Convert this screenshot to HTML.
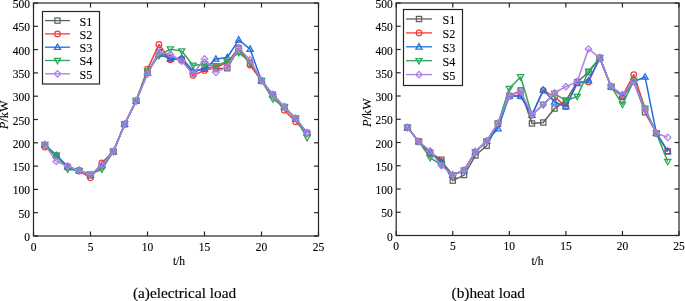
<!DOCTYPE html>
<html><head><meta charset="utf-8"><style>
html,body{margin:0;padding:0;background:#fff;}
body{width:685px;height:301px;overflow:hidden;}
svg{display:block;will-change:transform;}
.tk{font-family:"Liberation Serif",serif;font-size:11.5px;fill:#000;stroke:#000;stroke-width:0.12px;}
.lg{font-family:"Liberation Serif",serif;font-size:12.2px;fill:#000;stroke:#000;stroke-width:0.1px;}
.cap{font-family:"Liberation Serif",serif;font-size:15.3px;fill:#000;stroke:#000;stroke-width:0.15px;}
</style></head><body>
<svg width="685" height="301" viewBox="0 0 685 301">
<polyline points="44.90,145.13 56.30,155.85 67.70,167.03 79.10,170.76 90.50,175.42 101.90,166.10 113.30,151.65 124.70,124.16 136.10,100.86 147.50,72.90 158.90,51.93 170.30,57.99 181.70,59.85 193.10,72.90 204.50,67.31 215.90,68.71 227.30,68.24 238.70,48.67 250.10,63.58 261.50,80.82 272.90,94.80 284.30,106.92 295.70,118.57 307.10,133.01" fill="none" stroke="#606060" stroke-width="1.5" stroke-linejoin="round"/>
<rect x="42.30" y="142.53" width="5.20" height="5.20" fill="none" stroke="#606060" stroke-width="1.25"/>
<rect x="53.70" y="153.25" width="5.20" height="5.20" fill="none" stroke="#606060" stroke-width="1.25"/>
<rect x="65.10" y="164.43" width="5.20" height="5.20" fill="none" stroke="#606060" stroke-width="1.25"/>
<rect x="76.50" y="168.16" width="5.20" height="5.20" fill="none" stroke="#606060" stroke-width="1.25"/>
<rect x="87.90" y="172.82" width="5.20" height="5.20" fill="none" stroke="#606060" stroke-width="1.25"/>
<rect x="99.30" y="163.50" width="5.20" height="5.20" fill="none" stroke="#606060" stroke-width="1.25"/>
<rect x="110.70" y="149.05" width="5.20" height="5.20" fill="none" stroke="#606060" stroke-width="1.25"/>
<rect x="122.10" y="121.56" width="5.20" height="5.20" fill="none" stroke="#606060" stroke-width="1.25"/>
<rect x="133.50" y="98.26" width="5.20" height="5.20" fill="none" stroke="#606060" stroke-width="1.25"/>
<rect x="144.90" y="70.30" width="5.20" height="5.20" fill="none" stroke="#606060" stroke-width="1.25"/>
<rect x="156.30" y="49.33" width="5.20" height="5.20" fill="none" stroke="#606060" stroke-width="1.25"/>
<rect x="167.70" y="55.39" width="5.20" height="5.20" fill="none" stroke="#606060" stroke-width="1.25"/>
<rect x="179.10" y="57.25" width="5.20" height="5.20" fill="none" stroke="#606060" stroke-width="1.25"/>
<rect x="190.50" y="70.30" width="5.20" height="5.20" fill="none" stroke="#606060" stroke-width="1.25"/>
<rect x="201.90" y="64.71" width="5.20" height="5.20" fill="none" stroke="#606060" stroke-width="1.25"/>
<rect x="213.30" y="66.11" width="5.20" height="5.20" fill="none" stroke="#606060" stroke-width="1.25"/>
<rect x="224.70" y="65.64" width="5.20" height="5.20" fill="none" stroke="#606060" stroke-width="1.25"/>
<rect x="236.10" y="46.07" width="5.20" height="5.20" fill="none" stroke="#606060" stroke-width="1.25"/>
<rect x="247.50" y="60.98" width="5.20" height="5.20" fill="none" stroke="#606060" stroke-width="1.25"/>
<rect x="258.90" y="78.22" width="5.20" height="5.20" fill="none" stroke="#606060" stroke-width="1.25"/>
<rect x="270.30" y="92.20" width="5.20" height="5.20" fill="none" stroke="#606060" stroke-width="1.25"/>
<rect x="281.70" y="104.32" width="5.20" height="5.20" fill="none" stroke="#606060" stroke-width="1.25"/>
<rect x="293.10" y="115.97" width="5.20" height="5.20" fill="none" stroke="#606060" stroke-width="1.25"/>
<rect x="304.50" y="130.41" width="5.20" height="5.20" fill="none" stroke="#606060" stroke-width="1.25"/>
<polyline points="44.90,146.99 56.30,155.85 67.70,167.03 79.10,170.76 90.50,177.75 101.90,162.84 113.30,151.65 124.70,124.16 136.10,100.86 147.50,69.17 158.90,44.47 170.30,59.85 181.70,58.92 193.10,75.23 204.50,70.57 215.90,67.31 227.30,62.65 238.70,47.74 250.10,64.98 261.50,80.82 272.90,94.80 284.30,110.18 295.70,121.83 307.10,133.01" fill="none" stroke="#f03c3c" stroke-width="1.5" stroke-linejoin="round"/>
<circle cx="44.90" cy="146.99" r="2.80" fill="none" stroke="#f03c3c" stroke-width="1.25"/>
<circle cx="56.30" cy="155.85" r="2.80" fill="none" stroke="#f03c3c" stroke-width="1.25"/>
<circle cx="67.70" cy="167.03" r="2.80" fill="none" stroke="#f03c3c" stroke-width="1.25"/>
<circle cx="79.10" cy="170.76" r="2.80" fill="none" stroke="#f03c3c" stroke-width="1.25"/>
<circle cx="90.50" cy="177.75" r="2.80" fill="none" stroke="#f03c3c" stroke-width="1.25"/>
<circle cx="101.90" cy="162.84" r="2.80" fill="none" stroke="#f03c3c" stroke-width="1.25"/>
<circle cx="113.30" cy="151.65" r="2.80" fill="none" stroke="#f03c3c" stroke-width="1.25"/>
<circle cx="124.70" cy="124.16" r="2.80" fill="none" stroke="#f03c3c" stroke-width="1.25"/>
<circle cx="136.10" cy="100.86" r="2.80" fill="none" stroke="#f03c3c" stroke-width="1.25"/>
<circle cx="147.50" cy="69.17" r="2.80" fill="none" stroke="#f03c3c" stroke-width="1.25"/>
<circle cx="158.90" cy="44.47" r="2.80" fill="none" stroke="#f03c3c" stroke-width="1.25"/>
<circle cx="170.30" cy="59.85" r="2.80" fill="none" stroke="#f03c3c" stroke-width="1.25"/>
<circle cx="181.70" cy="58.92" r="2.80" fill="none" stroke="#f03c3c" stroke-width="1.25"/>
<circle cx="193.10" cy="75.23" r="2.80" fill="none" stroke="#f03c3c" stroke-width="1.25"/>
<circle cx="204.50" cy="70.57" r="2.80" fill="none" stroke="#f03c3c" stroke-width="1.25"/>
<circle cx="215.90" cy="67.31" r="2.80" fill="none" stroke="#f03c3c" stroke-width="1.25"/>
<circle cx="227.30" cy="62.65" r="2.80" fill="none" stroke="#f03c3c" stroke-width="1.25"/>
<circle cx="238.70" cy="47.74" r="2.80" fill="none" stroke="#f03c3c" stroke-width="1.25"/>
<circle cx="250.10" cy="64.98" r="2.80" fill="none" stroke="#f03c3c" stroke-width="1.25"/>
<circle cx="261.50" cy="80.82" r="2.80" fill="none" stroke="#f03c3c" stroke-width="1.25"/>
<circle cx="272.90" cy="94.80" r="2.80" fill="none" stroke="#f03c3c" stroke-width="1.25"/>
<circle cx="284.30" cy="110.18" r="2.80" fill="none" stroke="#f03c3c" stroke-width="1.25"/>
<circle cx="295.70" cy="121.83" r="2.80" fill="none" stroke="#f03c3c" stroke-width="1.25"/>
<circle cx="307.10" cy="133.01" r="2.80" fill="none" stroke="#f03c3c" stroke-width="1.25"/>
<polyline points="44.90,144.66 56.30,155.38 67.70,166.57 79.10,170.29 90.50,174.95 101.90,165.17 113.30,151.65 124.70,124.16 136.10,100.86 147.50,72.90 158.90,54.26 170.30,58.92 181.70,57.99 193.10,71.04 204.50,69.17 215.90,58.92 227.30,57.52 238.70,39.81 250.10,49.13 261.50,80.82 272.90,94.80 284.30,106.92 295.70,118.57 307.10,133.01" fill="none" stroke="#1f6fe0" stroke-width="1.5" stroke-linejoin="round"/>
<path d="M44.90,141.46 L48.00,146.86 L41.80,146.86 Z" fill="none" stroke="#1f6fe0" stroke-width="1.25"/>
<path d="M56.30,152.18 L59.40,157.58 L53.20,157.58 Z" fill="none" stroke="#1f6fe0" stroke-width="1.25"/>
<path d="M67.70,163.37 L70.80,168.77 L64.60,168.77 Z" fill="none" stroke="#1f6fe0" stroke-width="1.25"/>
<path d="M79.10,167.09 L82.20,172.49 L76.00,172.49 Z" fill="none" stroke="#1f6fe0" stroke-width="1.25"/>
<path d="M90.50,171.75 L93.60,177.15 L87.40,177.15 Z" fill="none" stroke="#1f6fe0" stroke-width="1.25"/>
<path d="M101.90,161.97 L105.00,167.37 L98.80,167.37 Z" fill="none" stroke="#1f6fe0" stroke-width="1.25"/>
<path d="M113.30,148.45 L116.40,153.85 L110.20,153.85 Z" fill="none" stroke="#1f6fe0" stroke-width="1.25"/>
<path d="M124.70,120.96 L127.80,126.36 L121.60,126.36 Z" fill="none" stroke="#1f6fe0" stroke-width="1.25"/>
<path d="M136.10,97.66 L139.20,103.06 L133.00,103.06 Z" fill="none" stroke="#1f6fe0" stroke-width="1.25"/>
<path d="M147.50,69.70 L150.60,75.10 L144.40,75.10 Z" fill="none" stroke="#1f6fe0" stroke-width="1.25"/>
<path d="M158.90,51.06 L162.00,56.46 L155.80,56.46 Z" fill="none" stroke="#1f6fe0" stroke-width="1.25"/>
<path d="M170.30,55.72 L173.40,61.12 L167.20,61.12 Z" fill="none" stroke="#1f6fe0" stroke-width="1.25"/>
<path d="M181.70,54.79 L184.80,60.19 L178.60,60.19 Z" fill="none" stroke="#1f6fe0" stroke-width="1.25"/>
<path d="M193.10,67.84 L196.20,73.24 L190.00,73.24 Z" fill="none" stroke="#1f6fe0" stroke-width="1.25"/>
<path d="M204.50,65.97 L207.60,71.37 L201.40,71.37 Z" fill="none" stroke="#1f6fe0" stroke-width="1.25"/>
<path d="M215.90,55.72 L219.00,61.12 L212.80,61.12 Z" fill="none" stroke="#1f6fe0" stroke-width="1.25"/>
<path d="M227.30,54.32 L230.40,59.72 L224.20,59.72 Z" fill="none" stroke="#1f6fe0" stroke-width="1.25"/>
<path d="M238.70,36.61 L241.80,42.01 L235.60,42.01 Z" fill="none" stroke="#1f6fe0" stroke-width="1.25"/>
<path d="M250.10,45.93 L253.20,51.33 L247.00,51.33 Z" fill="none" stroke="#1f6fe0" stroke-width="1.25"/>
<path d="M261.50,77.62 L264.60,83.02 L258.40,83.02 Z" fill="none" stroke="#1f6fe0" stroke-width="1.25"/>
<path d="M272.90,91.60 L276.00,97.00 L269.80,97.00 Z" fill="none" stroke="#1f6fe0" stroke-width="1.25"/>
<path d="M284.30,103.72 L287.40,109.12 L281.20,109.12 Z" fill="none" stroke="#1f6fe0" stroke-width="1.25"/>
<path d="M295.70,115.37 L298.80,120.77 L292.60,120.77 Z" fill="none" stroke="#1f6fe0" stroke-width="1.25"/>
<path d="M307.10,129.81 L310.20,135.21 L304.00,135.21 Z" fill="none" stroke="#1f6fe0" stroke-width="1.25"/>
<polyline points="44.90,144.66 56.30,155.38 67.70,169.36 79.10,170.76 90.50,174.02 101.90,169.36 113.30,151.65 124.70,124.16 136.10,100.86 147.50,71.04 158.90,55.66 170.30,49.13 181.70,51.00 193.10,65.44 204.50,64.05 215.90,65.91 227.30,61.25 238.70,52.86 250.10,61.72 261.50,80.82 272.90,99.00 284.30,106.92 295.70,118.57 307.10,137.67" fill="none" stroke="#2ea55a" stroke-width="1.5" stroke-linejoin="round"/>
<path d="M44.90,147.86 L48.00,142.46 L41.80,142.46 Z" fill="none" stroke="#2ea55a" stroke-width="1.25"/>
<path d="M56.30,158.58 L59.40,153.18 L53.20,153.18 Z" fill="none" stroke="#2ea55a" stroke-width="1.25"/>
<path d="M67.70,172.56 L70.80,167.16 L64.60,167.16 Z" fill="none" stroke="#2ea55a" stroke-width="1.25"/>
<path d="M79.10,173.96 L82.20,168.56 L76.00,168.56 Z" fill="none" stroke="#2ea55a" stroke-width="1.25"/>
<path d="M90.50,177.22 L93.60,171.82 L87.40,171.82 Z" fill="none" stroke="#2ea55a" stroke-width="1.25"/>
<path d="M101.90,172.56 L105.00,167.16 L98.80,167.16 Z" fill="none" stroke="#2ea55a" stroke-width="1.25"/>
<path d="M113.30,154.85 L116.40,149.45 L110.20,149.45 Z" fill="none" stroke="#2ea55a" stroke-width="1.25"/>
<path d="M124.70,127.36 L127.80,121.96 L121.60,121.96 Z" fill="none" stroke="#2ea55a" stroke-width="1.25"/>
<path d="M136.10,104.06 L139.20,98.66 L133.00,98.66 Z" fill="none" stroke="#2ea55a" stroke-width="1.25"/>
<path d="M147.50,74.24 L150.60,68.84 L144.40,68.84 Z" fill="none" stroke="#2ea55a" stroke-width="1.25"/>
<path d="M158.90,58.86 L162.00,53.46 L155.80,53.46 Z" fill="none" stroke="#2ea55a" stroke-width="1.25"/>
<path d="M170.30,52.33 L173.40,46.93 L167.20,46.93 Z" fill="none" stroke="#2ea55a" stroke-width="1.25"/>
<path d="M181.70,54.20 L184.80,48.80 L178.60,48.80 Z" fill="none" stroke="#2ea55a" stroke-width="1.25"/>
<path d="M193.10,68.64 L196.20,63.24 L190.00,63.24 Z" fill="none" stroke="#2ea55a" stroke-width="1.25"/>
<path d="M204.50,67.25 L207.60,61.85 L201.40,61.85 Z" fill="none" stroke="#2ea55a" stroke-width="1.25"/>
<path d="M215.90,69.11 L219.00,63.71 L212.80,63.71 Z" fill="none" stroke="#2ea55a" stroke-width="1.25"/>
<path d="M227.30,64.45 L230.40,59.05 L224.20,59.05 Z" fill="none" stroke="#2ea55a" stroke-width="1.25"/>
<path d="M238.70,56.06 L241.80,50.66 L235.60,50.66 Z" fill="none" stroke="#2ea55a" stroke-width="1.25"/>
<path d="M250.10,64.92 L253.20,59.52 L247.00,59.52 Z" fill="none" stroke="#2ea55a" stroke-width="1.25"/>
<path d="M261.50,84.02 L264.60,78.62 L258.40,78.62 Z" fill="none" stroke="#2ea55a" stroke-width="1.25"/>
<path d="M272.90,102.20 L276.00,96.80 L269.80,96.80 Z" fill="none" stroke="#2ea55a" stroke-width="1.25"/>
<path d="M284.30,110.12 L287.40,104.72 L281.20,104.72 Z" fill="none" stroke="#2ea55a" stroke-width="1.25"/>
<path d="M295.70,121.77 L298.80,116.37 L292.60,116.37 Z" fill="none" stroke="#2ea55a" stroke-width="1.25"/>
<path d="M307.10,140.87 L310.20,135.47 L304.00,135.47 Z" fill="none" stroke="#2ea55a" stroke-width="1.25"/>
<polyline points="44.90,144.66 56.30,161.44 67.70,166.10 79.10,170.76 90.50,174.95 101.90,165.17 113.30,151.65 124.70,124.16 136.10,100.86 147.50,73.83 158.90,52.40 170.30,54.26 181.70,61.25 193.10,73.83 204.50,58.92 215.90,72.43 227.30,66.84 238.70,48.20 250.10,59.85 261.50,80.82 272.90,94.80 284.30,106.92 295.70,118.57 307.10,133.01" fill="none" stroke="#b07ee8" stroke-width="1.5" stroke-linejoin="round"/>
<path d="M44.90,141.46 L48.10,144.66 L44.90,147.86 L41.70,144.66 Z" fill="none" stroke="#b07ee8" stroke-width="1.25"/>
<path d="M56.30,158.24 L59.50,161.44 L56.30,164.64 L53.10,161.44 Z" fill="none" stroke="#b07ee8" stroke-width="1.25"/>
<path d="M67.70,162.90 L70.90,166.10 L67.70,169.30 L64.50,166.10 Z" fill="none" stroke="#b07ee8" stroke-width="1.25"/>
<path d="M79.10,167.56 L82.30,170.76 L79.10,173.96 L75.90,170.76 Z" fill="none" stroke="#b07ee8" stroke-width="1.25"/>
<path d="M90.50,171.75 L93.70,174.95 L90.50,178.15 L87.30,174.95 Z" fill="none" stroke="#b07ee8" stroke-width="1.25"/>
<path d="M101.90,161.97 L105.10,165.17 L101.90,168.37 L98.70,165.17 Z" fill="none" stroke="#b07ee8" stroke-width="1.25"/>
<path d="M113.30,148.45 L116.50,151.65 L113.30,154.85 L110.10,151.65 Z" fill="none" stroke="#b07ee8" stroke-width="1.25"/>
<path d="M124.70,120.96 L127.90,124.16 L124.70,127.36 L121.50,124.16 Z" fill="none" stroke="#b07ee8" stroke-width="1.25"/>
<path d="M136.10,97.66 L139.30,100.86 L136.10,104.06 L132.90,100.86 Z" fill="none" stroke="#b07ee8" stroke-width="1.25"/>
<path d="M147.50,70.63 L150.70,73.83 L147.50,77.03 L144.30,73.83 Z" fill="none" stroke="#b07ee8" stroke-width="1.25"/>
<path d="M158.90,49.20 L162.10,52.40 L158.90,55.60 L155.70,52.40 Z" fill="none" stroke="#b07ee8" stroke-width="1.25"/>
<path d="M170.30,51.06 L173.50,54.26 L170.30,57.46 L167.10,54.26 Z" fill="none" stroke="#b07ee8" stroke-width="1.25"/>
<path d="M181.70,58.05 L184.90,61.25 L181.70,64.45 L178.50,61.25 Z" fill="none" stroke="#b07ee8" stroke-width="1.25"/>
<path d="M193.10,70.63 L196.30,73.83 L193.10,77.03 L189.90,73.83 Z" fill="none" stroke="#b07ee8" stroke-width="1.25"/>
<path d="M204.50,55.72 L207.70,58.92 L204.50,62.12 L201.30,58.92 Z" fill="none" stroke="#b07ee8" stroke-width="1.25"/>
<path d="M215.90,69.23 L219.10,72.43 L215.90,75.63 L212.70,72.43 Z" fill="none" stroke="#b07ee8" stroke-width="1.25"/>
<path d="M227.30,63.64 L230.50,66.84 L227.30,70.04 L224.10,66.84 Z" fill="none" stroke="#b07ee8" stroke-width="1.25"/>
<path d="M238.70,45.00 L241.90,48.20 L238.70,51.40 L235.50,48.20 Z" fill="none" stroke="#b07ee8" stroke-width="1.25"/>
<path d="M250.10,56.65 L253.30,59.85 L250.10,63.05 L246.90,59.85 Z" fill="none" stroke="#b07ee8" stroke-width="1.25"/>
<path d="M261.50,77.62 L264.70,80.82 L261.50,84.02 L258.30,80.82 Z" fill="none" stroke="#b07ee8" stroke-width="1.25"/>
<path d="M272.90,91.60 L276.10,94.80 L272.90,98.00 L269.70,94.80 Z" fill="none" stroke="#b07ee8" stroke-width="1.25"/>
<path d="M284.30,103.72 L287.50,106.92 L284.30,110.12 L281.10,106.92 Z" fill="none" stroke="#b07ee8" stroke-width="1.25"/>
<path d="M295.70,115.37 L298.90,118.57 L295.70,121.77 L292.50,118.57 Z" fill="none" stroke="#b07ee8" stroke-width="1.25"/>
<path d="M307.10,129.81 L310.30,133.01 L307.10,136.21 L303.90,133.01 Z" fill="none" stroke="#b07ee8" stroke-width="1.25"/>
<rect x="33.5" y="3.0" width="285.0" height="233.0" fill="none" stroke="#262626" stroke-width="1.2"/>
<line x1="33.5" y1="236.0" x2="33.5" y2="231.5" stroke="#262626" stroke-width="1.2"/>
<line x1="33.5" y1="3.0" x2="33.5" y2="7.5" stroke="#262626" stroke-width="1.2"/>
<line x1="90.5" y1="236.0" x2="90.5" y2="231.5" stroke="#262626" stroke-width="1.2"/>
<line x1="90.5" y1="3.0" x2="90.5" y2="7.5" stroke="#262626" stroke-width="1.2"/>
<line x1="147.5" y1="236.0" x2="147.5" y2="231.5" stroke="#262626" stroke-width="1.2"/>
<line x1="147.5" y1="3.0" x2="147.5" y2="7.5" stroke="#262626" stroke-width="1.2"/>
<line x1="204.5" y1="236.0" x2="204.5" y2="231.5" stroke="#262626" stroke-width="1.2"/>
<line x1="204.5" y1="3.0" x2="204.5" y2="7.5" stroke="#262626" stroke-width="1.2"/>
<line x1="261.5" y1="236.0" x2="261.5" y2="231.5" stroke="#262626" stroke-width="1.2"/>
<line x1="261.5" y1="3.0" x2="261.5" y2="7.5" stroke="#262626" stroke-width="1.2"/>
<line x1="318.5" y1="236.0" x2="318.5" y2="231.5" stroke="#262626" stroke-width="1.2"/>
<line x1="318.5" y1="3.0" x2="318.5" y2="7.5" stroke="#262626" stroke-width="1.2"/>
<line x1="33.5" y1="236.0" x2="38.0" y2="236.0" stroke="#262626" stroke-width="1.2"/>
<line x1="318.5" y1="236.0" x2="314.0" y2="236.0" stroke="#262626" stroke-width="1.2"/>
<line x1="33.5" y1="212.7" x2="38.0" y2="212.7" stroke="#262626" stroke-width="1.2"/>
<line x1="318.5" y1="212.7" x2="314.0" y2="212.7" stroke="#262626" stroke-width="1.2"/>
<line x1="33.5" y1="189.4" x2="38.0" y2="189.4" stroke="#262626" stroke-width="1.2"/>
<line x1="318.5" y1="189.4" x2="314.0" y2="189.4" stroke="#262626" stroke-width="1.2"/>
<line x1="33.5" y1="166.1" x2="38.0" y2="166.1" stroke="#262626" stroke-width="1.2"/>
<line x1="318.5" y1="166.1" x2="314.0" y2="166.1" stroke="#262626" stroke-width="1.2"/>
<line x1="33.5" y1="142.8" x2="38.0" y2="142.8" stroke="#262626" stroke-width="1.2"/>
<line x1="318.5" y1="142.8" x2="314.0" y2="142.8" stroke="#262626" stroke-width="1.2"/>
<line x1="33.5" y1="119.5" x2="38.0" y2="119.5" stroke="#262626" stroke-width="1.2"/>
<line x1="318.5" y1="119.5" x2="314.0" y2="119.5" stroke="#262626" stroke-width="1.2"/>
<line x1="33.5" y1="96.19999999999999" x2="38.0" y2="96.19999999999999" stroke="#262626" stroke-width="1.2"/>
<line x1="318.5" y1="96.19999999999999" x2="314.0" y2="96.19999999999999" stroke="#262626" stroke-width="1.2"/>
<line x1="33.5" y1="72.9" x2="38.0" y2="72.9" stroke="#262626" stroke-width="1.2"/>
<line x1="318.5" y1="72.9" x2="314.0" y2="72.9" stroke="#262626" stroke-width="1.2"/>
<line x1="33.5" y1="49.599999999999994" x2="38.0" y2="49.599999999999994" stroke="#262626" stroke-width="1.2"/>
<line x1="318.5" y1="49.599999999999994" x2="314.0" y2="49.599999999999994" stroke="#262626" stroke-width="1.2"/>
<line x1="33.5" y1="26.30000000000001" x2="38.0" y2="26.30000000000001" stroke="#262626" stroke-width="1.2"/>
<line x1="318.5" y1="26.30000000000001" x2="314.0" y2="26.30000000000001" stroke="#262626" stroke-width="1.2"/>
<line x1="33.5" y1="3.0" x2="38.0" y2="3.0" stroke="#262626" stroke-width="1.2"/>
<line x1="318.5" y1="3.0" x2="314.0" y2="3.0" stroke="#262626" stroke-width="1.2"/>
<text x="30.00" y="241.00" text-anchor="end" class="tk">0</text>
<text x="30.00" y="217.70" text-anchor="end" class="tk">50</text>
<text x="30.00" y="194.40" text-anchor="end" class="tk">100</text>
<text x="30.00" y="171.10" text-anchor="end" class="tk">150</text>
<text x="30.00" y="147.80" text-anchor="end" class="tk">200</text>
<text x="30.00" y="124.50" text-anchor="end" class="tk">250</text>
<text x="30.00" y="101.20" text-anchor="end" class="tk">300</text>
<text x="30.00" y="77.90" text-anchor="end" class="tk">350</text>
<text x="30.00" y="54.60" text-anchor="end" class="tk">400</text>
<text x="30.00" y="31.30" text-anchor="end" class="tk">450</text>
<text x="30.00" y="8.00" text-anchor="end" class="tk">500</text>
<text x="33.50" y="250.50" text-anchor="middle" class="tk">0</text>
<text x="90.50" y="250.50" text-anchor="middle" class="tk">5</text>
<text x="147.50" y="250.50" text-anchor="middle" class="tk">10</text>
<text x="204.50" y="250.50" text-anchor="middle" class="tk">15</text>
<text x="261.50" y="250.50" text-anchor="middle" class="tk">20</text>
<text x="318.50" y="250.50" text-anchor="middle" class="tk">25</text>
<rect x="42.5" y="11.5" width="57" height="72.5" fill="#fff" stroke="#262626" stroke-width="1.2"/>
<line x1="45" y1="20.60" x2="70" y2="20.60" stroke="#606060" stroke-width="1.3"/>
<rect x="54.90" y="18.00" width="5.20" height="5.20" fill="none" stroke="#606060" stroke-width="1.25"/>
<text x="79.5" y="25.50" class="lg">S1</text>
<line x1="45" y1="33.90" x2="70" y2="33.90" stroke="#f03c3c" stroke-width="1.3"/>
<circle cx="57.50" cy="33.90" r="2.80" fill="none" stroke="#f03c3c" stroke-width="1.25"/>
<text x="79.5" y="38.80" class="lg">S2</text>
<line x1="45" y1="47.20" x2="70" y2="47.20" stroke="#1f6fe0" stroke-width="1.3"/>
<path d="M57.50,44.00 L60.60,49.40 L54.40,49.40 Z" fill="none" stroke="#1f6fe0" stroke-width="1.25"/>
<text x="79.5" y="52.10" class="lg">S3</text>
<line x1="45" y1="60.50" x2="70" y2="60.50" stroke="#2ea55a" stroke-width="1.3"/>
<path d="M57.50,63.70 L60.60,58.30 L54.40,58.30 Z" fill="none" stroke="#2ea55a" stroke-width="1.25"/>
<text x="79.5" y="65.40" class="lg">S4</text>
<line x1="45" y1="73.80" x2="70" y2="73.80" stroke="#b07ee8" stroke-width="1.3"/>
<path d="M57.50,70.60 L60.70,73.80 L57.50,77.00 L54.30,73.80 Z" fill="none" stroke="#b07ee8" stroke-width="1.25"/>
<text x="79.5" y="78.70" class="lg">S5</text>
<polyline points="407.51,127.62 418.82,141.57 430.14,152.73 441.45,159.70 452.76,180.63 464.07,175.05 475.38,155.52 486.70,145.75 498.01,123.90 509.32,96.00 520.63,90.42 531.94,123.44 543.26,122.50 554.57,108.56 565.88,100.65 577.19,82.05 588.50,72.28 599.82,57.87 611.13,86.70 622.44,96.93 633.75,81.59 645.06,112.28 656.38,133.20 667.69,151.33" fill="none" stroke="#606060" stroke-width="1.5" stroke-linejoin="round"/>
<rect x="404.91" y="125.02" width="5.20" height="5.20" fill="none" stroke="#606060" stroke-width="1.25"/>
<rect x="416.22" y="138.97" width="5.20" height="5.20" fill="none" stroke="#606060" stroke-width="1.25"/>
<rect x="427.54" y="150.13" width="5.20" height="5.20" fill="none" stroke="#606060" stroke-width="1.25"/>
<rect x="438.85" y="157.10" width="5.20" height="5.20" fill="none" stroke="#606060" stroke-width="1.25"/>
<rect x="450.16" y="178.03" width="5.20" height="5.20" fill="none" stroke="#606060" stroke-width="1.25"/>
<rect x="461.47" y="172.45" width="5.20" height="5.20" fill="none" stroke="#606060" stroke-width="1.25"/>
<rect x="472.78" y="152.92" width="5.20" height="5.20" fill="none" stroke="#606060" stroke-width="1.25"/>
<rect x="484.10" y="143.15" width="5.20" height="5.20" fill="none" stroke="#606060" stroke-width="1.25"/>
<rect x="495.41" y="121.30" width="5.20" height="5.20" fill="none" stroke="#606060" stroke-width="1.25"/>
<rect x="506.72" y="93.40" width="5.20" height="5.20" fill="none" stroke="#606060" stroke-width="1.25"/>
<rect x="518.03" y="87.82" width="5.20" height="5.20" fill="none" stroke="#606060" stroke-width="1.25"/>
<rect x="529.34" y="120.84" width="5.20" height="5.20" fill="none" stroke="#606060" stroke-width="1.25"/>
<rect x="540.66" y="119.91" width="5.20" height="5.20" fill="none" stroke="#606060" stroke-width="1.25"/>
<rect x="551.97" y="105.96" width="5.20" height="5.20" fill="none" stroke="#606060" stroke-width="1.25"/>
<rect x="563.28" y="98.05" width="5.20" height="5.20" fill="none" stroke="#606060" stroke-width="1.25"/>
<rect x="574.59" y="79.45" width="5.20" height="5.20" fill="none" stroke="#606060" stroke-width="1.25"/>
<rect x="585.90" y="69.69" width="5.20" height="5.20" fill="none" stroke="#606060" stroke-width="1.25"/>
<rect x="597.22" y="55.27" width="5.20" height="5.20" fill="none" stroke="#606060" stroke-width="1.25"/>
<rect x="608.53" y="84.10" width="5.20" height="5.20" fill="none" stroke="#606060" stroke-width="1.25"/>
<rect x="619.84" y="94.33" width="5.20" height="5.20" fill="none" stroke="#606060" stroke-width="1.25"/>
<rect x="631.15" y="78.99" width="5.20" height="5.20" fill="none" stroke="#606060" stroke-width="1.25"/>
<rect x="642.46" y="109.68" width="5.20" height="5.20" fill="none" stroke="#606060" stroke-width="1.25"/>
<rect x="653.78" y="130.60" width="5.20" height="5.20" fill="none" stroke="#606060" stroke-width="1.25"/>
<rect x="665.09" y="148.73" width="5.20" height="5.20" fill="none" stroke="#606060" stroke-width="1.25"/>
<polyline points="407.51,127.62 418.82,141.57 430.14,153.66 441.45,161.56 452.76,175.05 464.07,170.40 475.38,151.80 486.70,141.11 498.01,123.44 509.32,96.00 520.63,96.00 531.94,115.06 543.26,90.42 554.57,96.93 565.88,106.69 577.19,82.05 588.50,82.05 599.82,57.87 611.13,86.70 622.44,96.00 633.75,74.61 645.06,108.56 656.38,133.20 667.69,151.33" fill="none" stroke="#f03c3c" stroke-width="1.5" stroke-linejoin="round"/>
<circle cx="407.51" cy="127.62" r="2.80" fill="none" stroke="#f03c3c" stroke-width="1.25"/>
<circle cx="418.82" cy="141.57" r="2.80" fill="none" stroke="#f03c3c" stroke-width="1.25"/>
<circle cx="430.14" cy="153.66" r="2.80" fill="none" stroke="#f03c3c" stroke-width="1.25"/>
<circle cx="441.45" cy="161.56" r="2.80" fill="none" stroke="#f03c3c" stroke-width="1.25"/>
<circle cx="452.76" cy="175.05" r="2.80" fill="none" stroke="#f03c3c" stroke-width="1.25"/>
<circle cx="464.07" cy="170.40" r="2.80" fill="none" stroke="#f03c3c" stroke-width="1.25"/>
<circle cx="475.38" cy="151.80" r="2.80" fill="none" stroke="#f03c3c" stroke-width="1.25"/>
<circle cx="486.70" cy="141.11" r="2.80" fill="none" stroke="#f03c3c" stroke-width="1.25"/>
<circle cx="498.01" cy="123.44" r="2.80" fill="none" stroke="#f03c3c" stroke-width="1.25"/>
<circle cx="509.32" cy="96.00" r="2.80" fill="none" stroke="#f03c3c" stroke-width="1.25"/>
<circle cx="520.63" cy="96.00" r="2.80" fill="none" stroke="#f03c3c" stroke-width="1.25"/>
<circle cx="531.94" cy="115.06" r="2.80" fill="none" stroke="#f03c3c" stroke-width="1.25"/>
<circle cx="543.26" cy="90.42" r="2.80" fill="none" stroke="#f03c3c" stroke-width="1.25"/>
<circle cx="554.57" cy="96.93" r="2.80" fill="none" stroke="#f03c3c" stroke-width="1.25"/>
<circle cx="565.88" cy="106.69" r="2.80" fill="none" stroke="#f03c3c" stroke-width="1.25"/>
<circle cx="577.19" cy="82.05" r="2.80" fill="none" stroke="#f03c3c" stroke-width="1.25"/>
<circle cx="588.50" cy="82.05" r="2.80" fill="none" stroke="#f03c3c" stroke-width="1.25"/>
<circle cx="599.82" cy="57.87" r="2.80" fill="none" stroke="#f03c3c" stroke-width="1.25"/>
<circle cx="611.13" cy="86.70" r="2.80" fill="none" stroke="#f03c3c" stroke-width="1.25"/>
<circle cx="622.44" cy="96.00" r="2.80" fill="none" stroke="#f03c3c" stroke-width="1.25"/>
<circle cx="633.75" cy="74.61" r="2.80" fill="none" stroke="#f03c3c" stroke-width="1.25"/>
<circle cx="645.06" cy="108.56" r="2.80" fill="none" stroke="#f03c3c" stroke-width="1.25"/>
<circle cx="656.38" cy="133.20" r="2.80" fill="none" stroke="#f03c3c" stroke-width="1.25"/>
<circle cx="667.69" cy="151.33" r="2.80" fill="none" stroke="#f03c3c" stroke-width="1.25"/>
<polyline points="407.51,127.62 418.82,141.57 430.14,152.73 441.45,162.03 452.76,175.05 464.07,170.40 475.38,151.80 486.70,141.11 498.01,128.55 509.32,96.00 520.63,96.00 531.94,115.06 543.26,89.96 554.57,102.04 565.88,106.69 577.19,83.44 588.50,80.66 599.82,57.87 611.13,86.70 622.44,95.07 633.75,81.59 645.06,76.94 656.38,133.20 667.69,151.33" fill="none" stroke="#1f6fe0" stroke-width="1.5" stroke-linejoin="round"/>
<path d="M407.51,124.42 L410.61,129.82 L404.41,129.82 Z" fill="none" stroke="#1f6fe0" stroke-width="1.25"/>
<path d="M418.82,138.37 L421.92,143.77 L415.72,143.77 Z" fill="none" stroke="#1f6fe0" stroke-width="1.25"/>
<path d="M430.14,149.53 L433.24,154.93 L427.04,154.93 Z" fill="none" stroke="#1f6fe0" stroke-width="1.25"/>
<path d="M441.45,158.83 L444.55,164.23 L438.35,164.23 Z" fill="none" stroke="#1f6fe0" stroke-width="1.25"/>
<path d="M452.76,171.85 L455.86,177.25 L449.66,177.25 Z" fill="none" stroke="#1f6fe0" stroke-width="1.25"/>
<path d="M464.07,167.20 L467.17,172.60 L460.97,172.60 Z" fill="none" stroke="#1f6fe0" stroke-width="1.25"/>
<path d="M475.38,148.60 L478.48,154.00 L472.28,154.00 Z" fill="none" stroke="#1f6fe0" stroke-width="1.25"/>
<path d="M486.70,137.91 L489.80,143.31 L483.60,143.31 Z" fill="none" stroke="#1f6fe0" stroke-width="1.25"/>
<path d="M498.01,125.35 L501.11,130.75 L494.91,130.75 Z" fill="none" stroke="#1f6fe0" stroke-width="1.25"/>
<path d="M509.32,92.80 L512.42,98.20 L506.22,98.20 Z" fill="none" stroke="#1f6fe0" stroke-width="1.25"/>
<path d="M520.63,92.80 L523.73,98.20 L517.53,98.20 Z" fill="none" stroke="#1f6fe0" stroke-width="1.25"/>
<path d="M531.94,111.86 L535.04,117.27 L528.84,117.27 Z" fill="none" stroke="#1f6fe0" stroke-width="1.25"/>
<path d="M543.26,86.76 L546.36,92.16 L540.16,92.16 Z" fill="none" stroke="#1f6fe0" stroke-width="1.25"/>
<path d="M554.57,98.84 L557.67,104.24 L551.47,104.24 Z" fill="none" stroke="#1f6fe0" stroke-width="1.25"/>
<path d="M565.88,103.49 L568.98,108.89 L562.78,108.89 Z" fill="none" stroke="#1f6fe0" stroke-width="1.25"/>
<path d="M577.19,80.24 L580.29,85.64 L574.09,85.64 Z" fill="none" stroke="#1f6fe0" stroke-width="1.25"/>
<path d="M588.50,77.45 L591.60,82.86 L585.40,82.86 Z" fill="none" stroke="#1f6fe0" stroke-width="1.25"/>
<path d="M599.82,54.67 L602.92,60.07 L596.72,60.07 Z" fill="none" stroke="#1f6fe0" stroke-width="1.25"/>
<path d="M611.13,83.50 L614.23,88.90 L608.03,88.90 Z" fill="none" stroke="#1f6fe0" stroke-width="1.25"/>
<path d="M622.44,91.87 L625.54,97.27 L619.34,97.27 Z" fill="none" stroke="#1f6fe0" stroke-width="1.25"/>
<path d="M633.75,78.39 L636.85,83.79 L630.65,83.79 Z" fill="none" stroke="#1f6fe0" stroke-width="1.25"/>
<path d="M645.06,73.73 L648.16,79.14 L641.96,79.14 Z" fill="none" stroke="#1f6fe0" stroke-width="1.25"/>
<path d="M656.38,130.00 L659.48,135.40 L653.28,135.40 Z" fill="none" stroke="#1f6fe0" stroke-width="1.25"/>
<path d="M667.69,148.13 L670.79,153.53 L664.59,153.53 Z" fill="none" stroke="#1f6fe0" stroke-width="1.25"/>
<polyline points="407.51,127.62 418.82,141.57 430.14,157.84 441.45,164.82 452.76,175.05 464.07,170.40 475.38,151.80 486.70,141.11 498.01,123.44 509.32,88.56 520.63,76.94 531.94,115.06 543.26,104.37 554.57,93.68 565.88,100.65 577.19,96.47 588.50,71.35 599.82,57.87 611.13,86.70 622.44,104.37 633.75,80.66 645.06,108.56 656.38,133.20 667.69,161.56" fill="none" stroke="#2ea55a" stroke-width="1.5" stroke-linejoin="round"/>
<path d="M407.51,130.82 L410.61,125.42 L404.41,125.42 Z" fill="none" stroke="#2ea55a" stroke-width="1.25"/>
<path d="M418.82,144.77 L421.92,139.37 L415.72,139.37 Z" fill="none" stroke="#2ea55a" stroke-width="1.25"/>
<path d="M430.14,161.05 L433.24,155.64 L427.04,155.64 Z" fill="none" stroke="#2ea55a" stroke-width="1.25"/>
<path d="M441.45,168.02 L444.55,162.62 L438.35,162.62 Z" fill="none" stroke="#2ea55a" stroke-width="1.25"/>
<path d="M452.76,178.25 L455.86,172.85 L449.66,172.85 Z" fill="none" stroke="#2ea55a" stroke-width="1.25"/>
<path d="M464.07,173.60 L467.17,168.20 L460.97,168.20 Z" fill="none" stroke="#2ea55a" stroke-width="1.25"/>
<path d="M475.38,155.00 L478.48,149.60 L472.28,149.60 Z" fill="none" stroke="#2ea55a" stroke-width="1.25"/>
<path d="M486.70,144.31 L489.80,138.91 L483.60,138.91 Z" fill="none" stroke="#2ea55a" stroke-width="1.25"/>
<path d="M498.01,126.64 L501.11,121.23 L494.91,121.23 Z" fill="none" stroke="#2ea55a" stroke-width="1.25"/>
<path d="M509.32,91.76 L512.42,86.36 L506.22,86.36 Z" fill="none" stroke="#2ea55a" stroke-width="1.25"/>
<path d="M520.63,80.14 L523.73,74.73 L517.53,74.73 Z" fill="none" stroke="#2ea55a" stroke-width="1.25"/>
<path d="M531.94,118.27 L535.04,112.86 L528.84,112.86 Z" fill="none" stroke="#2ea55a" stroke-width="1.25"/>
<path d="M543.26,107.57 L546.36,102.17 L540.16,102.17 Z" fill="none" stroke="#2ea55a" stroke-width="1.25"/>
<path d="M554.57,96.88 L557.67,91.48 L551.47,91.48 Z" fill="none" stroke="#2ea55a" stroke-width="1.25"/>
<path d="M565.88,103.85 L568.98,98.45 L562.78,98.45 Z" fill="none" stroke="#2ea55a" stroke-width="1.25"/>
<path d="M577.19,99.67 L580.29,94.27 L574.09,94.27 Z" fill="none" stroke="#2ea55a" stroke-width="1.25"/>
<path d="M588.50,74.55 L591.60,69.15 L585.40,69.15 Z" fill="none" stroke="#2ea55a" stroke-width="1.25"/>
<path d="M599.82,61.07 L602.92,55.67 L596.72,55.67 Z" fill="none" stroke="#2ea55a" stroke-width="1.25"/>
<path d="M611.13,89.90 L614.23,84.50 L608.03,84.50 Z" fill="none" stroke="#2ea55a" stroke-width="1.25"/>
<path d="M622.44,107.57 L625.54,102.17 L619.34,102.17 Z" fill="none" stroke="#2ea55a" stroke-width="1.25"/>
<path d="M633.75,83.86 L636.85,78.45 L630.65,78.45 Z" fill="none" stroke="#2ea55a" stroke-width="1.25"/>
<path d="M645.06,111.76 L648.16,106.36 L641.96,106.36 Z" fill="none" stroke="#2ea55a" stroke-width="1.25"/>
<path d="M656.38,136.40 L659.48,131.00 L653.28,131.00 Z" fill="none" stroke="#2ea55a" stroke-width="1.25"/>
<path d="M667.69,164.77 L670.79,159.36 L664.59,159.36 Z" fill="none" stroke="#2ea55a" stroke-width="1.25"/>
<polyline points="407.51,127.62 418.82,141.57 430.14,150.87 441.45,165.75 452.76,175.05 464.07,170.40 475.38,151.80 486.70,141.11 498.01,122.97 509.32,96.00 520.63,91.35 531.94,114.60 543.26,104.84 554.57,92.75 565.88,86.70 577.19,81.59 588.50,49.03 599.82,57.87 611.13,86.70 622.44,94.60 633.75,81.59 645.06,109.95 656.38,133.20 667.69,137.38" fill="none" stroke="#b07ee8" stroke-width="1.5" stroke-linejoin="round"/>
<path d="M407.51,124.42 L410.71,127.62 L407.51,130.82 L404.31,127.62 Z" fill="none" stroke="#b07ee8" stroke-width="1.25"/>
<path d="M418.82,138.37 L422.02,141.57 L418.82,144.77 L415.62,141.57 Z" fill="none" stroke="#b07ee8" stroke-width="1.25"/>
<path d="M430.14,147.67 L433.34,150.87 L430.14,154.07 L426.94,150.87 Z" fill="none" stroke="#b07ee8" stroke-width="1.25"/>
<path d="M441.45,162.55 L444.65,165.75 L441.45,168.95 L438.25,165.75 Z" fill="none" stroke="#b07ee8" stroke-width="1.25"/>
<path d="M452.76,171.85 L455.96,175.05 L452.76,178.25 L449.56,175.05 Z" fill="none" stroke="#b07ee8" stroke-width="1.25"/>
<path d="M464.07,167.20 L467.27,170.40 L464.07,173.60 L460.87,170.40 Z" fill="none" stroke="#b07ee8" stroke-width="1.25"/>
<path d="M475.38,148.60 L478.58,151.80 L475.38,155.00 L472.18,151.80 Z" fill="none" stroke="#b07ee8" stroke-width="1.25"/>
<path d="M486.70,137.91 L489.90,141.11 L486.70,144.31 L483.50,141.11 Z" fill="none" stroke="#b07ee8" stroke-width="1.25"/>
<path d="M498.01,119.77 L501.21,122.97 L498.01,126.17 L494.81,122.97 Z" fill="none" stroke="#b07ee8" stroke-width="1.25"/>
<path d="M509.32,92.80 L512.52,96.00 L509.32,99.20 L506.12,96.00 Z" fill="none" stroke="#b07ee8" stroke-width="1.25"/>
<path d="M520.63,88.15 L523.83,91.35 L520.63,94.55 L517.43,91.35 Z" fill="none" stroke="#b07ee8" stroke-width="1.25"/>
<path d="M531.94,111.40 L535.14,114.60 L531.94,117.80 L528.74,114.60 Z" fill="none" stroke="#b07ee8" stroke-width="1.25"/>
<path d="M543.26,101.64 L546.46,104.84 L543.26,108.04 L540.06,104.84 Z" fill="none" stroke="#b07ee8" stroke-width="1.25"/>
<path d="M554.57,89.55 L557.77,92.75 L554.57,95.95 L551.37,92.75 Z" fill="none" stroke="#b07ee8" stroke-width="1.25"/>
<path d="M565.88,83.50 L569.08,86.70 L565.88,89.90 L562.68,86.70 Z" fill="none" stroke="#b07ee8" stroke-width="1.25"/>
<path d="M577.19,78.39 L580.39,81.59 L577.19,84.79 L573.99,81.59 Z" fill="none" stroke="#b07ee8" stroke-width="1.25"/>
<path d="M588.50,45.84 L591.70,49.03 L588.50,52.23 L585.30,49.03 Z" fill="none" stroke="#b07ee8" stroke-width="1.25"/>
<path d="M599.82,54.67 L603.02,57.87 L599.82,61.07 L596.62,57.87 Z" fill="none" stroke="#b07ee8" stroke-width="1.25"/>
<path d="M611.13,83.50 L614.33,86.70 L611.13,89.90 L607.93,86.70 Z" fill="none" stroke="#b07ee8" stroke-width="1.25"/>
<path d="M622.44,91.40 L625.64,94.60 L622.44,97.80 L619.24,94.60 Z" fill="none" stroke="#b07ee8" stroke-width="1.25"/>
<path d="M633.75,78.39 L636.95,81.59 L633.75,84.79 L630.55,81.59 Z" fill="none" stroke="#b07ee8" stroke-width="1.25"/>
<path d="M645.06,106.75 L648.26,109.95 L645.06,113.15 L641.86,109.95 Z" fill="none" stroke="#b07ee8" stroke-width="1.25"/>
<path d="M656.38,130.00 L659.58,133.20 L656.38,136.40 L653.18,133.20 Z" fill="none" stroke="#b07ee8" stroke-width="1.25"/>
<path d="M667.69,134.18 L670.89,137.38 L667.69,140.59 L664.49,137.38 Z" fill="none" stroke="#b07ee8" stroke-width="1.25"/>
<rect x="396.2" y="3.0" width="282.8" height="232.5" fill="none" stroke="#262626" stroke-width="1.2"/>
<line x1="396.2" y1="235.5" x2="396.2" y2="231.0" stroke="#262626" stroke-width="1.2"/>
<line x1="396.2" y1="3.0" x2="396.2" y2="7.5" stroke="#262626" stroke-width="1.2"/>
<line x1="452.76" y1="235.5" x2="452.76" y2="231.0" stroke="#262626" stroke-width="1.2"/>
<line x1="452.76" y1="3.0" x2="452.76" y2="7.5" stroke="#262626" stroke-width="1.2"/>
<line x1="509.32" y1="235.5" x2="509.32" y2="231.0" stroke="#262626" stroke-width="1.2"/>
<line x1="509.32" y1="3.0" x2="509.32" y2="7.5" stroke="#262626" stroke-width="1.2"/>
<line x1="565.88" y1="235.5" x2="565.88" y2="231.0" stroke="#262626" stroke-width="1.2"/>
<line x1="565.88" y1="3.0" x2="565.88" y2="7.5" stroke="#262626" stroke-width="1.2"/>
<line x1="622.44" y1="235.5" x2="622.44" y2="231.0" stroke="#262626" stroke-width="1.2"/>
<line x1="622.44" y1="3.0" x2="622.44" y2="7.5" stroke="#262626" stroke-width="1.2"/>
<line x1="679.0" y1="235.5" x2="679.0" y2="231.0" stroke="#262626" stroke-width="1.2"/>
<line x1="679.0" y1="3.0" x2="679.0" y2="7.5" stroke="#262626" stroke-width="1.2"/>
<line x1="396.2" y1="235.5" x2="400.7" y2="235.5" stroke="#262626" stroke-width="1.2"/>
<line x1="679.0" y1="235.5" x2="674.5" y2="235.5" stroke="#262626" stroke-width="1.2"/>
<line x1="396.2" y1="212.25" x2="400.7" y2="212.25" stroke="#262626" stroke-width="1.2"/>
<line x1="679.0" y1="212.25" x2="674.5" y2="212.25" stroke="#262626" stroke-width="1.2"/>
<line x1="396.2" y1="189.0" x2="400.7" y2="189.0" stroke="#262626" stroke-width="1.2"/>
<line x1="679.0" y1="189.0" x2="674.5" y2="189.0" stroke="#262626" stroke-width="1.2"/>
<line x1="396.2" y1="165.75" x2="400.7" y2="165.75" stroke="#262626" stroke-width="1.2"/>
<line x1="679.0" y1="165.75" x2="674.5" y2="165.75" stroke="#262626" stroke-width="1.2"/>
<line x1="396.2" y1="142.5" x2="400.7" y2="142.5" stroke="#262626" stroke-width="1.2"/>
<line x1="679.0" y1="142.5" x2="674.5" y2="142.5" stroke="#262626" stroke-width="1.2"/>
<line x1="396.2" y1="119.25" x2="400.7" y2="119.25" stroke="#262626" stroke-width="1.2"/>
<line x1="679.0" y1="119.25" x2="674.5" y2="119.25" stroke="#262626" stroke-width="1.2"/>
<line x1="396.2" y1="96.0" x2="400.7" y2="96.0" stroke="#262626" stroke-width="1.2"/>
<line x1="679.0" y1="96.0" x2="674.5" y2="96.0" stroke="#262626" stroke-width="1.2"/>
<line x1="396.2" y1="72.75" x2="400.7" y2="72.75" stroke="#262626" stroke-width="1.2"/>
<line x1="679.0" y1="72.75" x2="674.5" y2="72.75" stroke="#262626" stroke-width="1.2"/>
<line x1="396.2" y1="49.5" x2="400.7" y2="49.5" stroke="#262626" stroke-width="1.2"/>
<line x1="679.0" y1="49.5" x2="674.5" y2="49.5" stroke="#262626" stroke-width="1.2"/>
<line x1="396.2" y1="26.25" x2="400.7" y2="26.25" stroke="#262626" stroke-width="1.2"/>
<line x1="679.0" y1="26.25" x2="674.5" y2="26.25" stroke="#262626" stroke-width="1.2"/>
<line x1="396.2" y1="3.0" x2="400.7" y2="3.0" stroke="#262626" stroke-width="1.2"/>
<line x1="679.0" y1="3.0" x2="674.5" y2="3.0" stroke="#262626" stroke-width="1.2"/>
<text x="392.70" y="240.50" text-anchor="end" class="tk">0</text>
<text x="392.70" y="217.25" text-anchor="end" class="tk">50</text>
<text x="392.70" y="194.00" text-anchor="end" class="tk">100</text>
<text x="392.70" y="170.75" text-anchor="end" class="tk">150</text>
<text x="392.70" y="147.50" text-anchor="end" class="tk">200</text>
<text x="392.70" y="124.25" text-anchor="end" class="tk">250</text>
<text x="392.70" y="101.00" text-anchor="end" class="tk">300</text>
<text x="392.70" y="77.75" text-anchor="end" class="tk">350</text>
<text x="392.70" y="54.50" text-anchor="end" class="tk">400</text>
<text x="392.70" y="31.25" text-anchor="end" class="tk">450</text>
<text x="392.70" y="8.00" text-anchor="end" class="tk">500</text>
<text x="396.20" y="250.00" text-anchor="middle" class="tk">0</text>
<text x="452.76" y="250.00" text-anchor="middle" class="tk">5</text>
<text x="509.32" y="250.00" text-anchor="middle" class="tk">10</text>
<text x="565.88" y="250.00" text-anchor="middle" class="tk">15</text>
<text x="622.44" y="250.00" text-anchor="middle" class="tk">20</text>
<text x="679.00" y="250.00" text-anchor="middle" class="tk">25</text>
<rect x="403.5" y="9.5" width="59" height="76" fill="#fff" stroke="#262626" stroke-width="1.2"/>
<line x1="406" y1="19.00" x2="432" y2="19.00" stroke="#606060" stroke-width="1.3"/>
<rect x="416.40" y="16.40" width="5.20" height="5.20" fill="none" stroke="#606060" stroke-width="1.25"/>
<text x="442.5" y="23.90" class="lg">S1</text>
<line x1="406" y1="32.90" x2="432" y2="32.90" stroke="#f03c3c" stroke-width="1.3"/>
<circle cx="419.00" cy="32.90" r="2.80" fill="none" stroke="#f03c3c" stroke-width="1.25"/>
<text x="442.5" y="37.80" class="lg">S2</text>
<line x1="406" y1="46.80" x2="432" y2="46.80" stroke="#1f6fe0" stroke-width="1.3"/>
<path d="M419.00,43.60 L422.10,49.00 L415.90,49.00 Z" fill="none" stroke="#1f6fe0" stroke-width="1.25"/>
<text x="442.5" y="51.70" class="lg">S3</text>
<line x1="406" y1="60.70" x2="432" y2="60.70" stroke="#2ea55a" stroke-width="1.3"/>
<path d="M419.00,63.90 L422.10,58.50 L415.90,58.50 Z" fill="none" stroke="#2ea55a" stroke-width="1.25"/>
<text x="442.5" y="65.60" class="lg">S4</text>
<line x1="406" y1="74.60" x2="432" y2="74.60" stroke="#b07ee8" stroke-width="1.3"/>
<path d="M419.00,71.40 L422.20,74.60 L419.00,77.80 L415.80,74.60 Z" fill="none" stroke="#b07ee8" stroke-width="1.25"/>
<text x="442.5" y="79.50" class="lg">S5</text>
<text x="179" y="265" text-anchor="middle" class="tk">t/h</text>
<text x="537.5" y="265" text-anchor="middle" class="tk">t/h</text>
<text transform="translate(8.2,114.8) rotate(-90)" text-anchor="middle" class="tk" style="font-size:12.3px"><tspan font-style="italic">P</tspan>/kW</text>
<text transform="translate(370.7,112.6) rotate(-90)" text-anchor="middle" class="tk" style="font-size:12.3px"><tspan font-style="italic">P</tspan>/kW</text>
<text x="184.5" y="297.5" text-anchor="middle" class="cap">(a)electrical load</text>
<text x="488.3" y="297.5" text-anchor="middle" class="cap">(b)heat load</text>
</svg>
</body></html>
